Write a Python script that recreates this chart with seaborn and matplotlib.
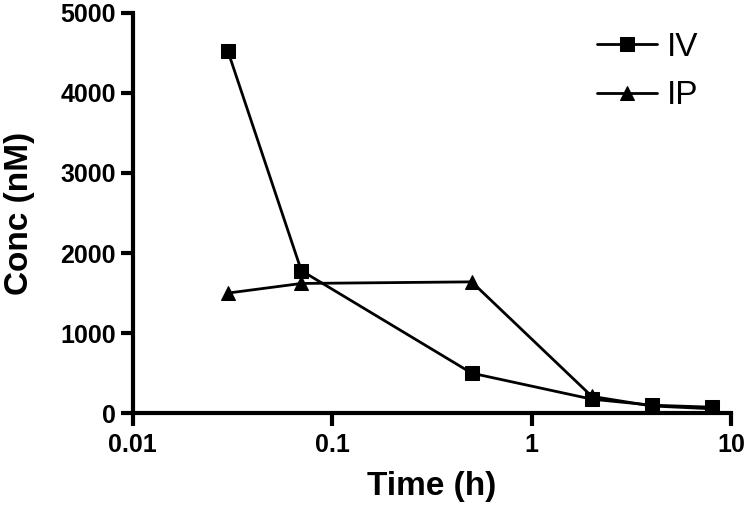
import matplotlib
matplotlib.use("Agg")
import matplotlib.pyplot as plt
import seaborn as sns
import pandas as pd
from matplotlib.ticker import FixedLocator, FixedFormatter, NullLocator

time_h = [0.03, 0.07, 0.5, 2, 4, 8]
iv_conc = [4520, 1780, 500, 175, 100, 75]
ip_conc = [1500, 1620, 1640, 210, 90, 55]
series_names = ["IV", "IP"]
x_ticks = [0.01, 0.1, 1, 10]
x_tick_labels = ["0.01", "0.1", "1", "10"]
y_ticks = [0, 1000, 2000, 3000, 4000, 5000]

df = pd.DataFrame({
    "Time": time_h * 2,
    "Conc": iv_conc + ip_conc,
    "Route": ["IV"] * len(time_h) + ["IP"] * len(time_h),
})

sns.set_style("ticks")
plt.rcParams["font.family"] = ["Liberation Sans", "DejaVu Sans"]
plt.rcParams["text.color"] = "black"
plt.rcParams["axes.labelcolor"] = "black"
plt.rcParams["xtick.color"] = "black"
plt.rcParams["ytick.color"] = "black"

fig = plt.figure(figsize=(7.5, 5.12), dpi=100)
ax = fig.add_axes([0.177, 0.193, 0.798, 0.782])

sns.lineplot(data=df, x="Time", y="Conc", hue="Route", style="Route",
             hue_order=series_names, style_order=series_names,
             palette={"IV": "black", "IP": "black"},
             markers={"IV": "s", "IP": "^"}, dashes=False,
             linewidth=2.0, markersize=10, markeredgecolor="black",
             ax=ax)

ax.set_xscale("log")
ax.set_xlim(0.01, 10)
ax.set_ylim(0, 5000)
ax.xaxis.set_major_locator(FixedLocator(x_ticks))
ax.xaxis.set_major_formatter(FixedFormatter(x_tick_labels))
ax.xaxis.set_minor_locator(NullLocator())
ax.set_yticks(y_ticks)

for s in ["top", "right"]:
    ax.spines[s].set_visible(False)
for s in ["left", "bottom"]:
    ax.spines[s].set_linewidth(3)
    ax.spines[s].set_color("black")

ax.tick_params(axis="both", which="major", length=9, width=3, direction="out",
               labelsize=18, colors="black")
ax.tick_params(axis="x", pad=5)
ax.tick_params(axis="y", pad=3)
for lab in ax.get_xticklabels() + ax.get_yticklabels():
    lab.set_fontweight("bold")

ax.set_xlabel("Time (h)", fontsize=24, fontweight="bold", labelpad=10)
ax.set_ylabel("Conc (nM)", fontsize=24, fontweight="bold", labelpad=18)

leg = ax.legend(loc="upper left", frameon=False, fontsize=24,
                handlelength=1.8, handletextpad=0.3,
                bbox_to_anchor=(597 / 750, 1 - 32 / 512),
                bbox_transform=fig.transFigure,
                borderpad=0, borderaxespad=0, labelspacing=0.52)
for h in leg.legend_handles:
    h.set_linewidth(2.0)

fig.savefig("out.png", dpi=100)
